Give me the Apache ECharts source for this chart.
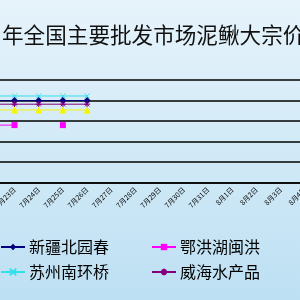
<!DOCTYPE html>
<html><head><meta charset="utf-8">
<script src="https://cdn.jsdelivr.net/npm/echarts@6/dist/echarts.min.js"></script>
<style>html,body{margin:0;padding:0;}#c{width:300px;height:300px;background:linear-gradient(#e6f3fb,#bde0f3);}</style>
</head><body><div id="c"></div>
<script>
const titleText = '年全国主要批发市场泥鳅大宗价格走势';
const categories = ['7月20日','7月21日','7月22日','7月23日','7月24日','7月25日','7月26日','7月27日','7月28日','7月29日','7月30日','7月31日','8月1日','8月2日','8月3日','8月4日'];
const xinjiang = [20,20,20,20,20,20,20,null,null,null,null,null,null,null,null,null];
const ezhou = [14,14,14,14,null,14,null,null,null,null,null,null,null,null,null,null];
const suzhou = [21.1,21.1,21.1,21.1,21.1,21.1,21.1,null,null,null,null,null,null,null,null,null];
const weihai = [19.1,19.1,19.1,19.1,19.1,19.1,19.1,null,null,null,null,null,null,null,null,null];
const other = [17.7,17.7,17.7,17.7,17.7,17.7,17.7,null,null,null,null,null,null,null,null,null];
const legendRow1 = ['新疆北园春','鄂洪湖闽洪'];
const legendRow2 = ['苏州南环桥','威海水产品'];
const yMin = 0, yMax = 25, yStep = 5;

const font = '"Noto Sans CJK SC", sans-serif';
const chart = echarts.init(document.getElementById('c'));
const xPath = 'path://M0,0L10,10M10,0L0,10';
const starPath = 'path://M5,0L5,10M0,5L10,5M1.5,1.5L8.5,8.5M8.5,1.5L1.5,8.5';
const legendBase = {left: 0, padding: 0, itemWidth: 24, itemHeight: 8, itemGap: 42,
  textStyle: {fontFamily: font, fontSize: 16, color: '#000', padding: [0,0,0,-1]}};
chart.setOption({
  animation: false,
  backgroundColor: 'transparent',
  title: {text: titleText, left: -3, top: 19, textStyle: {fontFamily: font, fontSize: 21.6, fontWeight: 'normal', color: '#111'}},
  grid: {left: -70.2, right: -17, top: 80, bottom: 117.5, containLabel: false, outerBoundsMode: 'none'},
  xAxis: {type: 'category', data: categories, boundaryGap: true,
    axisLine: {lineStyle: {color: '#000', width: 1.5}},
    axisTick: {lineStyle: {color: '#000'}, length: 3},
    axisLabel: {rotate: 45, fontSize: 7, color: '#000', fontFamily: font, margin: 6, interval: 0}},
  yAxis: {type: 'value', min: yMin, max: yMax, interval: yStep,
    axisLine: {show: false}, axisTick: {show: false}, axisLabel: {show: false},
    splitLine: {lineStyle: {color: '#000', width: 1.5}}},
  legend: [
    Object.assign({}, legendBase, {top: 239, data: legendRow1}),
    Object.assign({}, legendBase, {top: 264, data: legendRow2})
  ],
  series: [
    {name: '新疆北园春', type: 'line', data: xinjiang, symbol: 'diamond', symbolSize: 7,
      lineStyle: {color: '#000080', width: 1}, itemStyle: {color: '#000080'}},
    {name: '鄂洪湖闽洪', type: 'line', data: ezhou, symbol: 'rect', symbolSize: 6,
      lineStyle: {color: '#ff00ff', width: 1}, itemStyle: {color: '#ff00ff'}},
    {name: '苏州南环桥', type: 'line', data: suzhou, symbol: xPath, symbolSize: 5,
      lineStyle: {color: '#33e0e8', width: 1}, itemStyle: {color: '#33e0e8', borderColor: '#33e0e8', borderWidth: 1}},
    {name: '威海水产品', type: 'line', data: weihai, symbol: starPath, symbolSize: 6,
      lineStyle: {color: '#800080', width: 1}, itemStyle: {color: '#800080', borderColor: '#800080', borderWidth: 1}},
    {name: '其他', type: 'line', data: other, symbol: 'triangle', symbolSize: 7,
      lineStyle: {color: '#f5f500', width: 1}, itemStyle: {color: '#f5f500'}}
  ]
});
</script></body></html>
